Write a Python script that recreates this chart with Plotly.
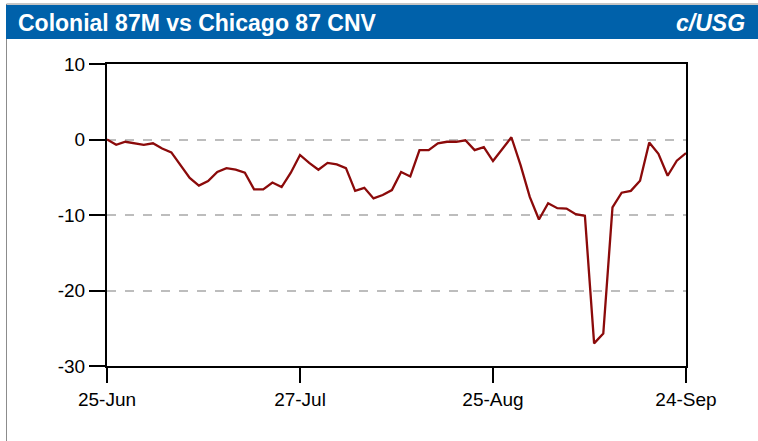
import pandas as pd
import plotly.graph_objects as go

# Business days shown on the chart (weekends and two holidays are absent)
all_days = pd.bdate_range("2020-06-25", "2020-09-24")
holidays = pd.to_datetime(["2020-07-03", "2020-09-07"])
dates = [d for d in all_days if d not in holidays]
date_keys = [d.strftime("%Y-%m-%d") for d in dates]

spread = [
    0.0, -0.7, -0.3, -0.5, -0.7, -0.5, -1.2, -1.7, -3.4, -5.1,
    -6.1, -5.5, -4.3, -3.8, -4.0, -4.4, -6.6, -6.6, -5.7, -6.3,
    -4.4, -2.05, -3.1, -4.0, -3.1, -3.3, -3.8, -6.8, -6.4, -7.8,
    -7.35, -6.7, -4.3, -4.9, -1.4, -1.4, -0.5, -0.3, -0.3, -0.1,
    -1.4, -1.0, -2.85, -1.2, 0.3, -3.4, -7.6, -10.6, -8.45, -9.1,
    -9.15, -9.9, -10.1, -27.0, -25.7, -9.0, -7.05, -6.8, -5.45, -0.4,
    -1.9, -4.8, -2.8, -1.8,
]

tick_dates = ["2020-06-25", "2020-07-27", "2020-08-25", "2020-09-24"]
tick_labels = [pd.Timestamp(d).strftime("%d-%b") for d in tick_dates]
y_ticks = [10, 0, -10, -20, -30]

title_text = "Colonial 87M vs Chicago 87 CNV"
unit_text = "c/USG"

fig = go.Figure()
fig.add_trace(go.Scatter(
    x=date_keys, y=spread, mode="lines",
    line=dict(color="#8B0A0A", width=2.3),
    hoverinfo="x+y", showlegend=False,
))

W, H = 758, 441
L, R, T, B = 107, 72, 64, 75
pw, ph = W - L - R, H - T - B


def px(x):
    return (x - L) / pw


def py(y):
    return (H - B - y) / ph


shapes = [
    # panel border
    dict(type="rect", xref="paper", yref="paper",
         x0=px(6.5), x1=px(770), y0=py(450), y1=py(4),
         line=dict(color="#8C8C8C", width=1), fillcolor="rgba(0,0,0,0)", layer="below"),
    # header bar
    dict(type="rect", xref="paper", yref="paper",
         x0=px(6), x1=px(770), y0=py(39), y1=py(5),
         line=dict(width=0), fillcolor="#0061AA", layer="below"),
]

annotations = [
    dict(text="<b>" + title_text + "</b>", xref="paper", yref="paper",
         x=px(16), y=py(23), xanchor="left", yanchor="middle", showarrow=False,
         font=dict(family="Liberation Sans, Arial, sans-serif", size=23, color="white")),
    dict(text="<b><i>" + unit_text + "</i></b>", xref="paper", yref="paper",
         x=px(747), y=py(23), xanchor="right", yanchor="middle", showarrow=False,
         font=dict(family="Liberation Sans, Arial, sans-serif", size=23, color="white")),
]

fig.update_layout(
    width=W, height=H,
    margin=dict(l=L, r=R, t=T, b=B, pad=0),
    paper_bgcolor="white", plot_bgcolor="white",
    shapes=shapes, annotations=annotations,
    font=dict(family="Liberation Sans, Arial, sans-serif", size=19, color="black"),
    xaxis=dict(
        type="category", categoryorder="array", categoryarray=date_keys,
        range=[0, len(date_keys) - 1],
        tickmode="array", tickvals=tick_dates, ticktext=tick_labels,
        showgrid=False, zeroline=False,
        showline=True, linecolor="black", linewidth=2, mirror=True,
        ticks="outside", ticklen=15, tickwidth=2, tickcolor="black",
        tickfont=dict(size=19),
    ),
    yaxis=dict(
        range=[-30, 10], tickmode="array", tickvals=y_ticks,
        ticktext=[str(v) for v in y_ticks],
        showgrid=True, gridcolor="#BDBDBD", gridwidth=1.5, griddash="dash",
        zeroline=False,
        showline=True, linecolor="black", linewidth=2, mirror=True,
        ticks="outside", ticklen=16, tickwidth=2, tickcolor="black",
        tickfont=dict(size=19),
    ),
)

fig.write_html(
    "out.html",
    config={"displayModeBar": False},
    post_script="document.body.style.margin='0';document.body.style.overflow='hidden';",
)
